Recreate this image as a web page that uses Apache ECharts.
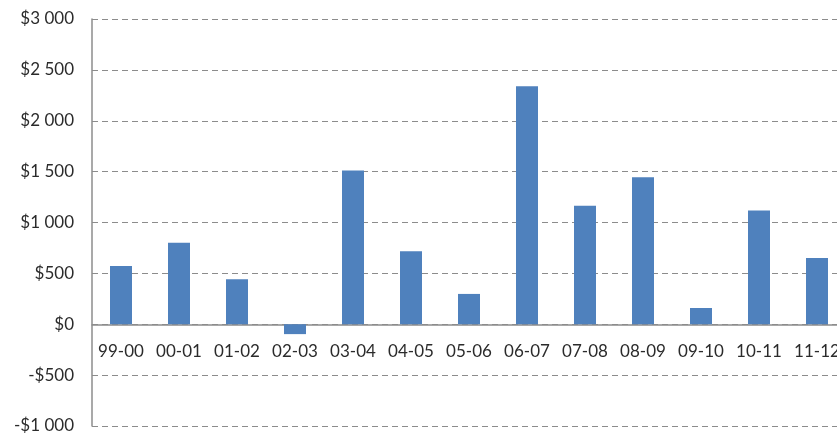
<!DOCTYPE html>
<html>
<head>
<meta charset="utf-8">
<script src="https://cdn.jsdelivr.net/npm/echarts@6/dist/echarts.min.js"></script>
<style>
  html, body { margin: 0; padding: 0; background: #fff; }
  #chart { width: 837px; height: 436px; }
</style>
</head>
<body>
<div id="chart"></div>
<script>
// 数据
const years = ['99-00', '00-01', '01-02', '02-03', '03-04', '04-05', '05-06',
               '06-07', '07-08', '08-09', '09-10', '10-11', '11-12'];
const amounts = [572, 800, 442, -97, 1510, 717, 298, 2340, 1164, 1445, 160, 1118, 652];
const yTicks = [-1000, 3000, 500];   // min, max, interval

function money(v) {
  var s = String(Math.abs(v)).replace(/\B(?=(\d{3})+(?!\d))/g, ' ');
  return (v < 0 ? '-$' : '$') + s;
}

var chart = echarts.init(document.getElementById('chart'));

// 网格尺寸, 零线在 -min/(max-min) 处
const gridTop = 19, gridHeight = 407;
const zeroShift = gridHeight * (-yTicks[0]) / (yTicks[1] - yTicks[0]);

const option = {
  animation: false,
  grid: { left: 92, top: gridTop, width: 754, height: gridHeight, outerBoundsMode: 'none', containLabel: false },
  xAxis: {
    type: 'category',
    data: years,
    position: 'bottom',
    offset: -zeroShift,
    axisLine: { onZero: false, lineStyle: { color: '#8c8c8c', width: 1.5 } },
    axisTick: { show: false },
    axisLabel: {
      interval: 0,
      margin: 19,
      color: '#2b2b2b',
      fontFamily: 'Lato',
      fontSize: 17
    }
  },
  yAxis: {
    type: 'value',
    min: yTicks[0],
    max: yTicks[1],
    interval: yTicks[2],
    axisLine: { show: true, lineStyle: { color: '#8c8c8c', width: 1.5 } },
    axisTick: { show: false },
    axisLabel: {
      margin: 18,
      color: '#2b2b2b',
      fontFamily: 'Lato',
      fontSize: 17,
      formatter: money
    },
    splitLine: {
      lineStyle: { color: '#8c8c8c', type: [6, 4], width: 1 }
    }
  },
  series: [
    {
      type: 'bar',
      data: amounts,
      barWidth: 22,
      itemStyle: { color: '#4F81BD' }
    }
  ]
};

// 渲染
chart.setOption(option);
</script>
</body>
</html>
